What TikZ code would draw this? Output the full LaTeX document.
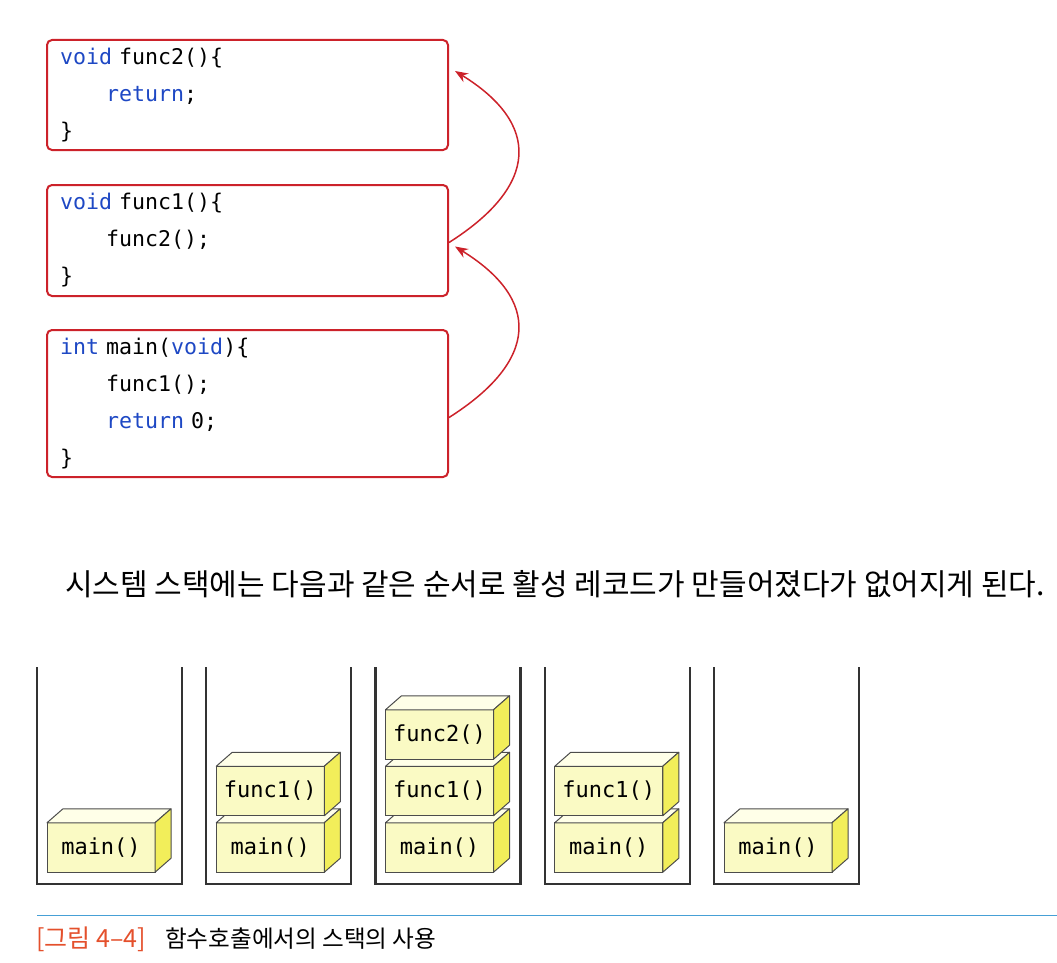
\documentclass[tikz,border=0pt]{standalone}
\usepackage{fontspec}
\setmonofont{DejaVu Sans Mono}
\newfontfamily\kofont{Noto Sans CJK KR}
\usetikzlibrary{arrows.meta}

\definecolor{codered}{RGB}{204,34,42}
\definecolor{kwblue}{RGB}{30,72,196}
\definecolor{framefront}{RGB}{250,250,196}
\definecolor{frametop}{RGB}{255,255,232}
\definecolor{frameside}{RGB}{242,238,90}
\definecolor{capred}{RGB}{228,80,44}
\definecolor{capblue}{RGB}{70,160,214}

\newcommand{\kw}[1]{\textcolor{kwblue}{#1}}
\newcommand{\frameblock}[3]{%
  \node[stackframe] (#1) at (#2) {#3};
  \filldraw[topface] (#1.north west) -- ([shift={(16,14)}]#1.north west)
    -- ([shift={(16,14)}]#1.north east) -- (#1.north east) -- cycle;
  \filldraw[sideface] (#1.north east) -- ([shift={(16,14)}]#1.north east)
    -- ([shift={(16,14)}]#1.south east) -- (#1.south east) -- cycle;
}

\begin{document}
\begin{tikzpicture}[x=1pt,y=1pt,
  codebox/.style={draw=codered,line width=2pt,rounded corners=5pt,
    minimum width=401pt,text width=375pt,inner xsep=13pt,inner ysep=0pt,
    align=left,font=\ttfamily\fontsize{21.6}{37}\selectfont},
  call/.style={draw=codered,line width=1.5pt,-{Stealth[length=13pt,width=10pt]}},
  stackframe/.style={draw=black!70,line width=1pt,fill=framefront,
    minimum width=108pt,minimum height=49.5pt,inner sep=0pt,outer sep=0pt,
    font=\ttfamily\fontsize{22}{22}\selectfont},
  topface/.style={draw=black!70,line width=1pt,fill=frametop,line join=round},
  sideface/.style={draw=black!70,line width=1pt,fill=frameside,line join=round},
  stackwall/.style={draw=black!80,line width=2.2pt},
  ]
  \useasboundingbox (0,0) rectangle (1057,-963);

  % code
  \node[codebox,minimum height=110pt] (func2) at (247.5,-95)
    {\kw{void} func2()\{\\\hspace*{46pt}\kw{return};\\\}};
  \node[codebox,minimum height=111pt] (func1) at (247.5,-240.5)
    {\kw{void} func1()\{\\\hspace*{46pt}func2();\\\}};
  \node[codebox,minimum height=147pt] (main) at (247.5,-403.5)
    {\kw{int} main(\kw{void})\{\\\hspace*{46pt}func1();\\\hspace*{46pt}\kw{return} 0;\\\}};
  \draw[call] ([yshift=-14]main.east) .. controls +(90,57) and +(86,-53) .. ([xshift=6,yshift=-6]func1.east);
  \draw[call] ([yshift=-2]func1.east) .. controls +(90,57) and +(86,-53) .. ([xshift=6,yshift=24]func2.east);

  \node[anchor=base west,inner sep=0pt,font=\kofont\fontsize{30}{30}\selectfont] (note) at (65,-595)
    {시스템 스택에는 다음과 같은 순서로 활성 레코드가 만들어졌다가 없어지게 된다.};

  % stacks
  \draw[stackwall] (37,-667) -- (37,-884) -- (182,-884) -- (182,-667);
  \draw[stackwall] (206.25,-667) -- (206.25,-884) -- (351.25,-884) -- (351.25,-667);
  \draw[stackwall] (375.5,-667) -- (375.5,-884) -- (520.5,-884) -- (520.5,-667);
  \draw[stackwall] (544.75,-667) -- (544.75,-884) -- (689.75,-884) -- (689.75,-667);
  \draw[stackwall] (714,-667) -- (714,-884) -- (859,-884) -- (859,-667);

  \frameblock{s1main}{101,-847.5}{main()}
  \frameblock{s2main}{270.25,-847.5}{main()}
  \frameblock{s2func1}{270.25,-791}{func1()}
  \frameblock{s3main}{439.5,-847.5}{main()}
  \frameblock{s3func1}{439.5,-791}{func1()}
  \frameblock{s3func2}{439.5,-734.5}{func2()}
  \frameblock{s4main}{608.75,-847.5}{main()}
  \frameblock{s4func1}{608.75,-791}{func1()}
  \frameblock{s5main}{778,-847.5}{main()}

  % caption
  \draw[capblue,line width=1.5pt] (37,-915.5) -- (1057,-915.5);
  \node[anchor=base west,inner sep=0pt,text=capred,font=\kofont\fontsize{25}{25}\selectfont] (fignum) at (36,-947) {[그림 4–4]};
  \node[anchor=base west,inner sep=0pt,font=\kofont\fontsize{23.6}{24}\selectfont] (figtitle) at (165,-947) {함수호출에서의 스택의 사용};
\end{tikzpicture}
\end{document}
